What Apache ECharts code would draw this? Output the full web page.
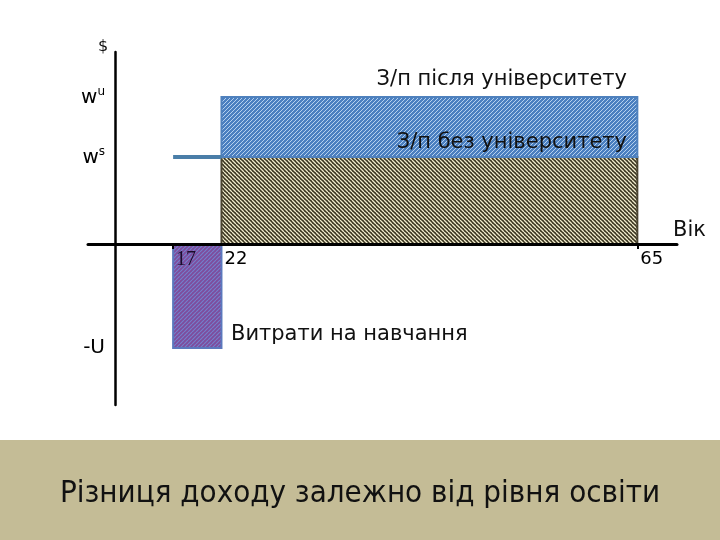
<!DOCTYPE html>
<html>
<head>
<meta charset="utf-8">
<script src="https://cdn.jsdelivr.net/npm/echarts@6/dist/echarts.min.js"></script>
<style>html,body{margin:0;padding:0;background:#fff}#c{width:720px;height:540px}</style>
</head>
<body>
<div id="c"></div>
<script>
// ---- data ----
const ageTicks = [17, 22, 65];          // age labels on horizontal axis
const ageTickMarks = [17, 65];
const levelNames = ['wu', 'ws', '-U'];  // vertical axis labels
const levelValues = [147, 87, -104];    // w^u, w^s, -U (relative units)
const startAge = 17, gradAge = 22, retireAge = 65;
const wageUni = 147, wageNoUni = 87, costStudy = -104;

// ---- patterns ----
function hatch(bg, fg, dir, size, lw) {
  const c = document.createElement('canvas');
  c.width = c.height = size;
  const g = c.getContext('2d');
  g.fillStyle = bg; g.fillRect(0, 0, size, size);
  g.strokeStyle = fg; g.lineWidth = lw;
  g.beginPath();
  for (let k = -1; k <= 1; k++) {
    if (dir === '/') { g.moveTo(k * size, size); g.lineTo(k * size + size, 0); }
    else { g.moveTo(k * size, 0); g.lineTo(k * size + size, size); }
  }
  g.stroke();
  return { image: c, repeat: 'repeat' };
}
const blueFill = hatch('#4a7fc0', '#b4d0ee', '/', 4, 1.0);
const darkFill = hatch('#38331e', '#f0ebcc', '\\', 4, 1.35);
const purpleFill = hatch('#7e4c9c', '#7480cc', '/', 4, 1.2);

const rects = [
  { x0: gradAge, x1: retireAge, y0: 0, y1: wageNoUni, fill: darkFill, stroke: '#4a4430' },
  { x0: gradAge, x1: retireAge, y0: wageNoUni, y1: wageUni, fill: blueFill, stroke: '#4f81bd' },
  { x0: startAge, x1: gradAge, y0: costStudy, y1: 0, fill: purpleFill, stroke: '#5b78bd' }
];

const chart = echarts.init(document.getElementById('c'));
const txt = '#111';
chart.setOption({
  animation: false,
  grid: { left: 88, right: 43, top: 52, bottom: 135 },
  xAxis: {
    type: 'value', min: 8.2, max: 69.1, z: 5,
    splitLine: { show: false },
    axisLine: { show: true, onZero: true, lineStyle: { color: '#000', width: 3 } },
    axisTick: { show: true, customValues: ageTickMarks, length: 5, lineStyle: { color: '#000', width: 2 } },
    axisLabel: { show: false }
  },
  yAxis: {
    type: 'value', min: -161, max: 192, offset: -27,
    splitLine: { show: false },
    axisLine: { show: true, onZero: false, lineStyle: { color: '#000', width: 2.5 } },
    axisTick: { show: false },
    axisLabel: {
      customValues: levelValues, margin: 10, color: '#000',
      formatter: v => {
        const i = levelValues.indexOf(v);
        const n = levelNames[i];
        if (n === 'wu') return '{w|w}{sup|u}';
        if (n === 'ws') return '{w|w}{sup|s}';
        return '{w|' + n + '}';
      },
      rich: {
        w: { fontFamily: 'DejaVu Sans', fontSize: 20, color: '#000', verticalAlign: 'bottom' },
        sup: { fontFamily: 'DejaVu Sans', fontSize: 12, color: '#000', verticalAlign: 'top', padding: [0,0,10,0] }
      }
    }
  },
  series: [
    {
      type: 'custom', z: 2,
      data: rects.map(r => [r.x0, r.x1, r.y0, r.y1]),
      renderItem: (params, api) => {
        const r = rects[params.dataIndex];
        const a = api.coord([api.value(0), api.value(3)]);
        const b = api.coord([api.value(1), api.value(2)]);
        return {
          type: 'rect',
          shape: { x: a[0], y: a[1], width: b[0] - a[0], height: b[1] - a[1] },
          style: { fill: r.fill, stroke: r.stroke, lineWidth: 2 }
        };
      }
    },
    {
      type: 'line', z: 3, symbol: 'none',
      data: [[startAge, wageNoUni], [gradAge, wageNoUni]],
      lineStyle: { color: '#4a7ea8', width: 4 }
    },
    {
      type: 'scatter', z: 6, symbolSize: 0, silent: true,
      itemStyle: { opacity: 1 },
      data: ageTicks.map(a => [a, 0]),
      label: {
        show: true, position: [3, 6], align: 'left', verticalAlign: 'top', opacity: 1,
        fontFamily: 'DejaVu Sans', fontSize: 19, color: '#000', textBorderWidth: 0,
        formatter: p => p.value[0] === 17 ? '{s|17}' : '{n|' + p.value[0] + '}',
        rich: {
          s: { fontFamily: 'Liberation Serif', fontSize: 20, color: '#1b0b2b' },
          n: { fontFamily: 'DejaVu Sans', fontSize: 18, color: '#000' }
        }
      }
    }
  ],
  graphic: [
    { type: 'rect', z: -1, shape: { x: 0, y: 440, width: 720, height: 100 }, style: { fill: '#c4bc96' } },
    { type: 'text', z: 100, style: { text: 'Різниця доходу залежно від рівня освіти', x: 360, y: 494, align: 'center', verticalAlign: 'middle', font: '31px "DejaVu Sans Condensed", "DejaVu Sans"', fill: txt } },
    { type: 'text', z: 100, style: { text: '$', x: 103, y: 47, align: 'center', verticalAlign: 'middle', font: '16px "DejaVu Sans"', fill: txt } },
    { type: 'text', z: 100, style: { text: 'З/п після університету', x: 627, y: 80, align: 'right', verticalAlign: 'middle', font: '21px "DejaVu Sans"', fill: txt } },
    { type: 'text', z: 100, style: { text: 'З/п без університету', x: 627, y: 143, align: 'right', verticalAlign: 'middle', font: '21px "DejaVu Sans"', fill: txt } },
    { type: 'text', z: 100, style: { text: 'Вік', x: 673, y: 231, align: 'left', verticalAlign: 'middle', font: '21px "DejaVu Sans"', fill: txt } },
    { type: 'text', z: 100, style: { text: 'Витрати на навчання', x: 231, y: 335, align: 'left', verticalAlign: 'middle', font: '21px "DejaVu Sans"', fill: txt } }
  ]
});
</script>
</body>
</html>
